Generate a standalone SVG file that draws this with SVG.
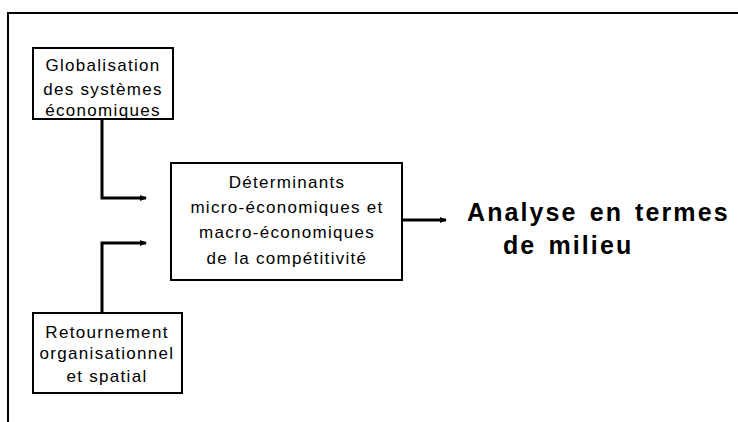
<svg xmlns="http://www.w3.org/2000/svg" width="738" height="422" viewBox="0 0 738 422">
<style>
.box{fill:#fff;stroke:#000;stroke-width:2}
.t{font-family:"Liberation Sans",Arial,sans-serif;font-size:17px;letter-spacing:1.3px;text-anchor:middle;fill:#000}
.big{font-family:"Liberation Sans",Arial,sans-serif;font-size:25px;font-weight:bold;letter-spacing:2.1px;word-spacing:3px;fill:#000}
.c{fill:none;stroke:#000;stroke-width:3}
</style>
<defs>
<marker id="ah" markerWidth="8" markerHeight="8" refX="6" refY="4" orient="auto" markerUnits="userSpaceOnUse">
<path d="M0,1 L7,4 L0,7 Z" fill="#000"/>
</marker>
</defs>
<rect width="738" height="422" fill="#fff"/>
<path d="M8,422 V13 H738" fill="none" stroke="#000" stroke-width="2"/>
<g id="connectors">
<path class="c" d="M102,120 V198 H146" marker-end="url(#ah)"/>
<path class="c" d="M102,313 V243 H146" marker-end="url(#ah)"/>
<path class="c" d="M402,220 H446" marker-end="url(#ah)"/>
</g>
<g id="globalisation">
<rect class="box" x="33" y="48" width="140" height="71"/>
<text class="t" x="103" y="71">Globalisation</text>
<text class="t" x="103" y="95">des systèmes</text>
<text class="t" x="103" y="116">économiques</text>
</g>
<g id="determinants">
<rect class="box" x="171" y="163" width="231" height="117"/>
<text class="t" x="287" y="188">Déterminants</text>
<text class="t" x="287" y="213">micro-économiques et</text>
<text class="t" x="287" y="238">macro-économiques</text>
<text class="t" x="287" y="264">de la compétitivité</text>
</g>
<g id="retournement">
<rect class="box" x="33" y="313" width="149" height="80"/>
<text class="t" x="107" y="338">Retournement</text>
<text class="t" x="107" y="359">organisationnel</text>
<text class="t" x="107" y="382">et spatial</text>
</g>
<g id="analyse">
<text class="big" x="467" y="221">Analyse en termes</text>
<text class="big" x="503" y="254">de milieu</text>
</g>
</svg>
